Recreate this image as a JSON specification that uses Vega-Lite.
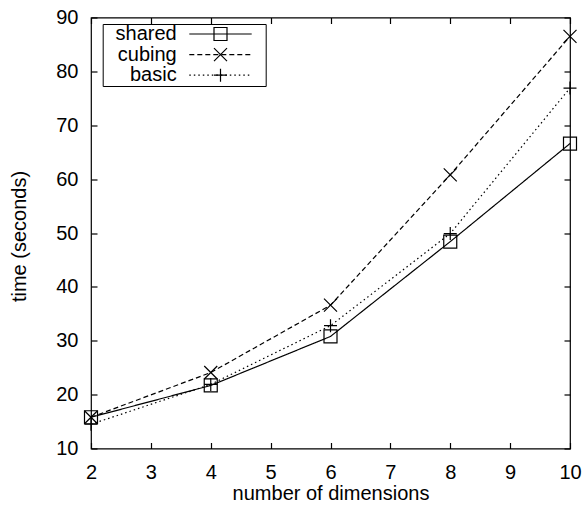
{
  "$schema": "https://vega.github.io/schema/vega-lite/v6.json",
  "width": 479,
  "height": 431,
  "autosize": {"type": "none"},
  "padding": {"left": 91, "top": 17.5, "right": 16, "bottom": 63.5},
  "config": {
    "view": {"stroke": "black", "strokeWidth": 1.2},
    "font": "Liberation Sans",
    "axis": {"grid": false, "domain": false, "tickColor": "black", "tickWidth": 1.2, "labelColor": "black", "titleColor": "black", "labelFontSize": 20, "titleFontSize": 20, "titleFontWeight": "normal", "labelFont": "Liberation Sans", "titleFont": "Liberation Sans"},
    "legend": {"labelFont": "Liberation Sans"}
  },
  "data": {
    "values": [
      {"series": "shared", "dim": 2, "time": 15.8},
      {"series": "shared", "dim": 4, "time": 21.7},
      {"series": "shared", "dim": 6, "time": 30.8},
      {"series": "shared", "dim": 8, "time": 48.4},
      {"series": "shared", "dim": 10, "time": 66.6},
      {"series": "cubing", "dim": 2, "time": 15.8},
      {"series": "cubing", "dim": 4, "time": 24.1},
      {"series": "cubing", "dim": 6, "time": 36.6},
      {"series": "cubing", "dim": 8, "time": 60.8},
      {"series": "cubing", "dim": 10, "time": 86.5},
      {"series": "basic", "dim": 2, "time": 14.5},
      {"series": "basic", "dim": 4, "time": 21.9},
      {"series": "basic", "dim": 6, "time": 32.8},
      {"series": "basic", "dim": 8, "time": 49.9},
      {"series": "basic", "dim": 10, "time": 76.9}
    ]
  },
  "layer": [
    {
      "mark": {"type": "line", "color": "black", "strokeWidth": 1.2},
      "encoding": {
        "x": {"field": "dim", "type": "quantitative", "scale": {"domain": [2, 10], "nice": false, "zero": false},
          "axis": {"orient": "bottom", "values": [2, 3, 4, 5, 6, 7, 8, 9, 10], "tickSize": -6, "labelPadding": 20, "labelFlush": false, "title": "number of dimensions", "titleBaseline": "alphabetic", "titleY": 51}},
        "y": {"field": "time", "type": "quantitative", "scale": {"domain": [10, 90], "nice": false, "zero": false},
          "axis": {"orient": "left", "values": [10, 20, 30, 40, 50, 60, 70, 80, 90], "tickSize": -6, "labelPadding": 19, "labelFlush": false, "title": "time (seconds)", "titleX": -61.7, "titleY": 218.5}},
        "strokeDash": {"field": "series", "type": "nominal",
          "scale": {"domain": ["shared", "cubing", "basic"], "range": [[1, 0], [5, 3], [1.5, 3]]},
          "legend": {"title": null, "orient": "none", "legendX": 11.7, "legendY": 6.5, "padding": 0, "rowPadding": 0.6,
            "strokeColor": "black", "labelFontSize": 20, "labelColor": "black", "labelAlign": "right", "labelOffset": -53.8, "symbolOffset": 107.8,
            "symbolType": "M-5.2,0H5.2M7.08,0", "symbolSize": 144, "symbolStrokeColor": "black", "symbolStrokeWidth": 1.2}}
      }
    },
    {
      "mark": {"type": "point", "filled": false, "stroke": "black", "strokeWidth": 1.2, "size": 169, "opacity": 1},
      "encoding": {
        "x": {"field": "dim", "type": "quantitative",
          "axis": {"orient": "top", "values": [2, 3, 4, 5, 6, 7, 8, 9, 10], "tickSize": -6, "labels": false, "title": null}},
        "y": {"field": "time", "type": "quantitative",
          "axis": {"orient": "right", "values": [10, 20, 30, 40, 50, 60, 70, 80, 90], "tickSize": -6, "labels": false, "title": null}},
        "shape": {"field": "series", "type": "nominal", "sort": null,
          "scale": {"range": ["M-1,-1H1V1H-1Z", "M-1,-1L1,1M-1,1L1,-1", "M-1,0H1M0,-1V1"]},
          "legend": {"title": null, "orient": "none", "legendX": 119.5, "legendY": 6.5, "padding": 0, "rowPadding": 0.6,
            "labelFontSize": 20, "labelOpacity": 0, "symbolSize": 169, "symbolStrokeColor": "black", "symbolStrokeWidth": 1.2, "symbolFillColor": "transparent"}}
      }
    }
  ]
}
